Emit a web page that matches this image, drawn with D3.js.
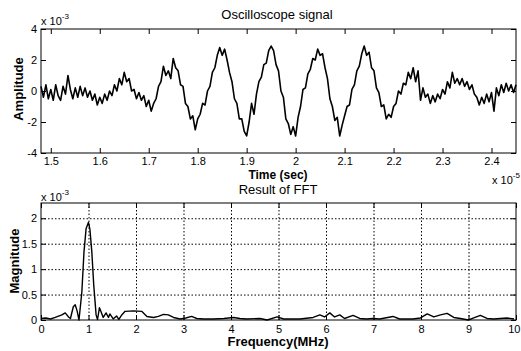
<!DOCTYPE html>
<html>
<head>
<meta charset="utf-8">
<script src="https://cdn.jsdelivr.net/npm/d3@7"></script>
<style>
body { margin: 0; background: #fff; }
svg text { font-family: "Liberation Sans", Arial, sans-serif; fill: #000; }
.axis path { display: none; }
.axis line { stroke: #000; }
.grid line { stroke: #000; stroke-dasharray: 1.5,2; }
.grid path { display: none; }
</style>
</head>
<body>
<svg id="chart" width="521" height="351"></svg>
<script>
// oscilloscope trace, sampled every tStep (x 1e-5 s), amplitude in 1e-3
var tStart = 1.48, tStep = 0.005;
var amplitude = [
    0.3, -0.4, 0.4, -0.5, 0.1, -0.6, 0.4, -0.3, -0.6, 0.3,
    -0.2, 1.0, 0.1, -0.5, 0.2, -0.4, 0.3, -0.3, 0.2, -0.4,
    0.0, -0.6, -0.2, -0.9, -0.4, -0.8, -0.2, -0.6, 0.0, -0.3,
    0.4, 0.0, 0.8, 0.4, 1.2, 0.6, 0.8, 0.0, 0.1, -0.5,
    -0.1, -0.6, -0.3, -1.0, -0.6, -1.3, -0.8, -0.5, 0.3, 0.6,
    1.6, 1.0, 1.3, 0.8, 2.1, 1.5, 1.3, 0.4, 0.3, -0.8,
    -1.0, -1.8, -1.6, -2.5, -1.8, -1.5, -0.8, -0.9, 0.0, 0.3,
    1.2, 1.5, 2.3, 2.8, 2.3, 2.7, 2.0, 1.2, 0.6, -0.5,
    -0.8, -1.8, -1.8, -2.6, -2.9, -2.0, -0.8, -1.5, -0.2, 0.6,
    0.9, 1.7, 1.8, 2.6, 2.9, 2.6, 1.7, 1.3, 0.0, -0.4,
    -1.8, -2.1, -2.8, -2.3, -2.9, -1.7, -1.0, 0.1, 0.2, 1.1,
    1.4, 2.1, 2.0, 2.7, 2.3, 2.4, 1.5, 0.8, -0.5, -1.0,
    -1.9, -1.7, -2.9, -2.2, -1.6, -1.0, -0.9, 0.1, 0.4, 1.3,
    1.6, 2.4, 2.9, 2.3, 2.5, 1.5, 1.3, 0.2, -0.1, -1.0,
    -0.9, -1.8, -1.5, -1.7, -1.0, -0.8, 0.0, -0.2, 0.5, 0.4,
    1.2, 0.8, 1.5, 0.6, 1.3, -0.6, 0.2, -0.4, -0.2, -0.8,
    -0.3, -0.7, -0.2, -0.5, 0.1, -0.2, 0.6, 0.2, 1.2, 0.5,
    0.8, 0.4, 0.8, 0.3, 0.6, 0.1, 0.4, -0.2, -0.4, -0.9,
    -0.4, -0.8, -0.2, -0.7, -0.1, -1.3, 0.2, -0.3, 0.4, -0.1,
    0.5, 0.0, 0.4, -0.1, 0.4
];
var timeTicks = [1.5, 1.6, 1.7, 1.8, 1.9, 2, 2.1, 2.2, 2.3, 2.4];
var ampTicks = [-4, -2, 0, 2, 4];

// FFT magnitude (1e-3) against frequency (MHz)
var fftFreq = [
    0.00, 0.10, 0.20, 0.30, 0.44, 0.51, 0.58, 0.62, 0.68, 0.72,
    0.76, 0.80, 0.86, 0.905, 0.95, 1.00, 1.03, 1.07, 1.11, 1.16,
    1.19, 1.23, 1.26, 1.31, 1.37, 1.42, 1.45, 1.52, 1.59, 1.64,
    1.70, 1.77, 1.95, 2.12, 2.23, 2.37, 2.47, 2.58, 2.68, 2.79,
    2.93, 3.05, 3.17, 3.28, 3.42, 3.63, 3.85, 4.05, 4.19, 4.33,
    4.61, 4.76, 4.97, 5.11, 5.45, 5.73, 5.87, 5.97, 6.08, 6.18,
    6.29, 6.39, 6.57, 6.71, 6.85, 6.99, 7.13, 7.41, 7.55, 7.83,
    7.99, 8.13, 8.27, 8.41, 8.55, 8.69, 8.83, 9.00, 9.11, 9.25,
    9.39, 9.53, 9.67, 9.81, 9.96
];
var fftMag = [
    0.03, 0.04, 0.02, 0.05, 0.10, 0.14, 0.06, 0.03, 0.26, 0.30,
    0.18, 0.00, 0.55, 1.34, 1.80, 1.92, 1.78, 1.34, 0.69, 0.10,
    0.01, 0.24, 0.17, 0.05, 0.14, 0.05, 0.12, 0.02, 0.08, 0.01,
    0.10, 0.17, 0.18, 0.17, 0.07, 0.05, 0.07, 0.11, 0.10, 0.05,
    0.02, 0.04, 0.07, 0.03, 0.02, 0.02, 0.03, 0.05, 0.03, 0.02,
    0.03, 0.00, 0.06, 0.02, 0.02, 0.05, 0.10, 0.06, 0.14, 0.06,
    0.10, 0.03, 0.09, 0.03, 0.02, 0.03, 0.02, 0.07, 0.02, 0.02,
    0.04, 0.12, 0.06, 0.10, 0.13, 0.05, 0.03, 0.00, 0.04, 0.09,
    0.03, 0.02, 0.03, 0.04, 0.02
];
var freqTicks = [0, 1, 2, 3, 4, 5, 6, 7, 8, 9, 10];
var magTicks = [0, 0.5, 1, 1.5, 2];

var svg = d3.select("#chart");
var left = 41, right = 516;
var plain = function (d) { return String(d); };

function frame(g, w, h) {
    g.append("rect")
        .attr("width", w).attr("height", h)
        .attr("fill", "none").attr("stroke", "#000").attr("stroke-width", 1);
}

// inward ticks on all four sides, labels on bottom and left only
function ticks(g, x, y, w, h, xTicks, yTicks, xPad) {
    g.append("g").attr("class", "axis xlab")
        .attr("transform", "translate(0," + h + ")")
        .call(d3.axisBottom(x).tickValues(xTicks).tickSizeInner(-5).tickSizeOuter(0).tickPadding(xPad).tickFormat(plain))
        .selectAll("text").style("font-size", "11px");
    g.append("g").attr("class", "axis")
        .call(d3.axisTop(x).tickValues(xTicks).tickSizeInner(-5).tickSizeOuter(0).tickFormat(""));
    g.append("g").attr("class", "axis")
        .call(d3.axisLeft(y).tickValues(yTicks).tickSizeInner(-5).tickSizeOuter(0).tickPadding(4).tickFormat(plain))
        .selectAll("text").style("font-size", "11px");
    g.append("g").attr("class", "axis")
        .attr("transform", "translate(" + w + ",0)")
        .call(d3.axisRight(y).tickValues(yTicks).tickSizeInner(-5).tickSizeOuter(0).tickFormat(""));
}

function exponent(g, px, py, base, sup, size) {
    var t = g.append("text").attr("x", px).attr("y", py).style("font-size", size + "px");
    t.append("tspan").text(base);
    t.append("tspan").attr("dy", -6).style("font-size", (size - 3) + "px").text(sup);
}

// ---- top: oscilloscope signal ----
var topY0 = 29, topH = 124, W = right - left;
var gTop = svg.append("g").attr("transform", "translate(" + left + "," + topY0 + ")");
var xTime = d3.scaleLinear().domain([1.48, 2.45]).range([0, W]);
var yAmp = d3.scaleLinear().domain([-4, 4]).range([topH, 0]);

var signal = amplitude.map(function (v, i) { return [tStart + i * tStep, v]; });
gTop.append("path")
    .datum(signal)
    .attr("fill", "none").attr("stroke", "#000").attr("stroke-width", 1.6)
    .attr("stroke-linejoin", "round")
    .attr("d", d3.line().x(function (d) { return xTime(d[0]); }).y(function (d) { return yAmp(d[1]); }));

ticks(gTop, xTime, yAmp, W, topH, timeTicks, ampTicks, 4);
frame(gTop, W, topH);

svg.append("text").attr("x", 277).attr("y", 19).attr("text-anchor", "middle")
    .style("font-size", "13px").text("Oscilloscope signal");
svg.append("text").attr("x", 278).attr("y", 179).attr("text-anchor", "middle")
    .style("font-size", "12px").style("font-weight", "bold").text("Time (sec)");
svg.append("text").attr("transform", "translate(23,89)rotate(-90)").attr("text-anchor", "middle")
    .style("font-size", "13px").style("font-weight", "bold").text("Amplitude");
exponent(svg, 41, 25, "x 10", "-3", 11);
exponent(svg, 492, 184, "x 10", "-5", 11);

// ---- bottom: FFT ----
var botY0 = 203, botH = 117;
var gBot = svg.append("g").attr("transform", "translate(" + left + "," + botY0 + ")");
var xFreq = d3.scaleLinear().domain([0, 10]).range([0, W]);
var yMag = d3.scaleLinear().domain([0, 2.3]).range([botH, 0]);

gBot.append("g").attr("class", "grid")
    .attr("transform", "translate(0," + botH + ")")
    .call(d3.axisBottom(xFreq).tickValues(freqTicks.slice(1, -1)).tickSize(-botH).tickFormat(""));
gBot.append("g").attr("class", "grid")
    .call(d3.axisLeft(yMag).tickValues(magTicks.slice(1)).tickSize(-W).tickFormat(""));

gBot.append("path")
    .datum(d3.zip(fftFreq, fftMag))
    .attr("fill", "none").attr("stroke", "#000").attr("stroke-width", 1.4)
    .attr("stroke-linejoin", "round")
    .attr("d", d3.line().x(function (d) { return xFreq(d[0]); }).y(function (d) { return yMag(d[1]); }));

ticks(gBot, xFreq, yMag, W, botH, freqTicks, magTicks, 5);
frame(gBot, W, botH);

// last frequency label sits flush against the right edge
gBot.selectAll(".xlab .tick text")
    .filter(function (d) { return d === 10; })
    .attr("text-anchor", "end").attr("x", 4);

svg.append("text").attr("x", 278).attr("y", 194).attr("text-anchor", "middle")
    .style("font-size", "13px").text("Result of FFT");
svg.append("text").attr("x", 278).attr("y", 346).attr("text-anchor", "middle")
    .style("font-size", "13px").style("font-weight", "bold").text("Frequency(MHz)");
svg.append("text").attr("transform", "translate(19,261)rotate(-90)").attr("text-anchor", "middle")
    .style("font-size", "13px").style("font-weight", "bold").text("Magnitude");
exponent(svg, 41, 201, "x 10", "-3", 11);
</script>
</body>
</html>
